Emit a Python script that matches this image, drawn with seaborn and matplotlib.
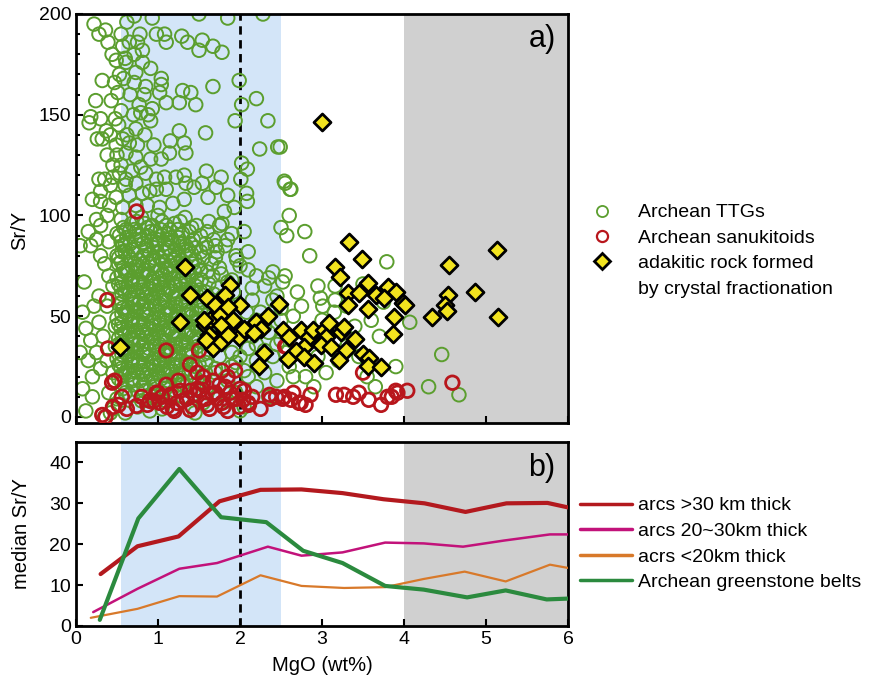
import numpy as np
import matplotlib.pyplot as plt
from matplotlib.lines import Line2D
from matplotlib.ticker import MultipleLocator
import seaborn as sns

sns.set_style("ticks")
plt.rcParams["font.family"] = ["Liberation Sans", "DejaVu Sans"]
for key in ("text.color", "axes.labelcolor", "xtick.color", "ytick.color",
            "axes.edgecolor"):
    plt.rcParams[key] = "black"

# ----- panel a) scatter data (MgO wt%, Sr/Y) -----
ttg_upper = [
    (0.22, 195), (0.36, 192), (0.28, 190), (0.39, 186), (0.71, 199), (0.93, 198),
    (1.50, 200), (1.85, 198), (2.28, 200), (0.98, 190), (1.08, 190), (1.10, 186),
    (1.29, 189), (1.36, 186), (1.54, 187), (1.50, 182), (1.67, 184), (1.78, 181),
    (0.65, 186), (0.75, 186), (0.81, 182), (0.71, 180), (0.57, 184), (0.49, 177),
    (0.61, 176), (0.81, 176), (0.91, 173), (1.04, 168), (1.04, 165), (1.02, 161),
    (0.73, 171), (0.71, 166), (0.85, 164), (0.53, 170), (0.47, 166), (0.32, 167),
    (0.51, 161), (0.43, 157), (0.55, 152), (0.24, 157), (0.18, 149), (0.30, 148),
    (0.16, 146), (0.37, 142), (0.26, 138), (0.49, 135), (1.30, 162), (1.40, 161),
    (1.67, 164), (1.99, 167), (2.20, 158), (2.02, 155), (1.94, 147), (2.34, 147),
    (1.26, 156), (1.46, 155), (1.10, 156), (0.93, 153), (0.77, 155), (0.79, 151),
    (0.91, 147), (0.73, 143), (0.57, 138), (0.65, 136), (1.26, 142), (1.58, 141),
    (1.15, 137), (1.32, 136), (1.34, 131), (1.14, 131), (1.04, 128), (0.91, 128),
    (0.73, 129), (0.61, 131), (0.79, 124), (2.24, 133), (2.46, 134), (2.02, 126),
    (2.09, 123), (1.59, 122), (1.77, 119), (1.71, 114), (1.61, 109), (2.01, 118),
    (2.08, 111), (2.09, 107), (2.54, 117), (2.62, 113), (0.28, 118), (0.45, 119),
    (0.53, 121), (0.61, 118), (0.73, 116), (0.85, 121), (0.98, 118), (1.08, 119),
    (1.22, 119), (1.32, 120), (1.34, 116), (1.44, 114), (1.54, 116), (1.10, 113),
    (0.98, 113), (0.81, 111), (0.65, 110), (0.49, 109), (0.30, 107), (0.41, 105),
    (0.57, 104), (0.73, 105), (0.87, 105), (1.02, 104), (1.18, 106), (1.32, 108),
    (1.81, 102), (1.93, 104), (2.49, 134), (1.85, 110), (2.60, 100),
    (0.55, 125), (0.62, 140), (0.70, 150), (0.66, 160), (0.58, 168), (0.52, 145),
    (0.60, 115), (0.68, 122), (0.75, 135), (0.84, 140), (0.90, 112), (0.95, 135),
    (0.55, 190), (0.62, 196), (0.60, 178), (0.78, 190), (0.83, 160), (0.88, 150),
    (0.50, 130), (0.44, 180),
]
ttg_left = [
    (0.05, 85), (0.08, 52), (0.05, 32), (0.10, 67), (0.12, 44), (0.15, 28),
    (0.20, 20), (0.18, 85), (0.25, 88), (0.30, 80), (0.35, 76), (0.22, 55),
    (0.28, 47), (0.33, 40), (0.25, 32), (0.38, 28), (0.30, 24), (0.20, 10),
    (0.12, 3), (0.35, 0), (0.42, 2), (0.40, 12), (0.45, 22), (0.48, 45),
    (0.45, 65), (0.40, 70), (0.30, 95), (0.38, 100), (0.42, 115), (0.35, 118),
    (0.45, 125), (0.30, 112), (0.20, 108), (0.25, 98), (0.15, 92), (0.40, 87),
    (0.50, 80), (0.08, 14), (0.28, 60), (0.38, 55), (0.48, 35), (0.18, 38),
    (0.42, 140), (0.38, 130), (0.48, 148), (0.32, 138),
]
ttg_core = [
    (0.55, 98), (0.68, 96), (0.80, 99), (0.93, 95), (1.05, 97), (1.20, 96), (1.33, 99),
    (1.47, 95), (1.62, 97), (1.78, 96),
    (0.50, 91), (0.62, 89), (0.74, 92), (0.87, 90), (0.99, 88), (1.12, 91), (1.25, 89),
    (1.38, 92), (1.52, 90), (1.68, 88), (1.90, 91),
    (0.57, 85), (0.70, 83), (0.82, 86), (0.95, 84), (1.08, 86), (1.21, 83), (1.34, 85),
    (1.46, 84), (1.58, 86), (1.72, 82), (1.82, 85),
    (0.52, 79), (0.64, 80), (0.77, 78), (0.90, 81), (1.02, 79), (1.15, 80), (1.28, 78),
    (1.41, 81), (1.55, 79), (1.65, 76), (1.96, 78),
    (0.58, 74), (0.71, 76), (0.84, 73), (0.97, 75), (1.10, 74), (1.23, 76), (1.36, 73),
    (1.49, 75), (1.60, 72), (1.75, 74), (2.10, 73),
    (0.50, 69), (0.63, 71), (0.76, 68), (0.89, 70), (1.01, 69), (1.14, 71), (1.27, 68),
    (1.40, 70), (1.53, 68), (1.67, 70), (1.85, 67), (2.35, 69),
    (0.55, 64), (0.68, 66), (0.81, 63), (0.94, 65), (1.07, 64), (1.20, 66), (1.33, 63),
    (1.46, 65), (1.58, 62), (1.73, 64), (2.15, 64),
    (0.52, 59), (0.65, 61), (0.78, 58), (0.91, 60), (1.04, 59), (1.17, 61), (1.30, 58),
    (1.43, 60), (1.56, 57), (1.78, 59), (2.40, 58),
    (0.57, 54), (0.70, 56), (0.83, 53), (0.96, 55), (1.09, 54), (1.22, 56), (1.35, 53),
    (1.48, 55), (1.62, 52), (2.08, 52), (2.50, 54),
    (0.50, 49), (0.63, 51), (0.76, 48), (0.89, 50), (1.02, 49), (1.15, 51), (1.28, 48),
    (1.41, 50), (1.54, 47), (1.70, 50), (2.20, 48),
    (0.55, 44), (0.68, 46), (0.81, 43), (0.94, 45), (1.07, 44), (1.20, 46), (1.33, 43),
    (1.46, 45), (1.60, 42), (1.95, 44), (2.35, 42),
    (0.52, 39), (0.65, 41), (0.78, 38), (0.91, 40), (1.04, 39), (1.17, 41), (1.30, 38),
    (1.43, 40), (1.56, 37), (1.80, 39), (2.45, 36),
    (0.57, 34), (0.70, 36), (0.83, 33), (0.96, 35), (1.09, 34), (1.22, 36), (1.35, 33),
    (1.48, 35), (1.62, 32), (2.10, 34),
    (0.50, 29), (0.63, 31), (0.76, 28), (0.89, 30), (1.02, 29), (1.15, 31), (1.28, 28),
    (1.41, 30), (1.58, 27), (2.20, 28),
    (0.55, 24), (0.68, 26), (0.81, 23), (0.94, 25), (1.07, 24), (1.20, 26), (1.33, 23),
    (1.46, 25), (1.70, 24),
    (0.52, 19), (0.65, 21), (0.78, 18), (0.91, 20), (1.04, 19), (1.17, 21), (1.30, 18),
    (1.45, 20), (1.85, 18),
    (0.57, 14), (0.70, 16), (0.83, 13), (0.96, 15), (1.09, 14), (1.25, 16), (1.40, 13),
    (1.60, 12),
    (0.50, 9), (0.65, 11), (0.80, 8), (0.95, 10), (1.10, 8), (1.30, 10), (1.55, 7),
    (0.45, 4), (0.60, 2), (0.75, 5), (0.90, 3), (1.05, 4), (1.45, 2), (2.00, 3),
]
ttg_core_fill = [
    (0.61, 93), (0.74, 97), (0.87, 94), (1.00, 100), (1.14, 93), (1.27, 97), (1.41, 94),
    (0.55, 87), (0.66, 86), (0.79, 88), (0.92, 87), (1.05, 90), (1.17, 87), (1.30, 86),
    (1.43, 88), (1.60, 84),
    (0.60, 82), (0.73, 81), (0.86, 83), (0.99, 82), (1.12, 84), (1.25, 81), (1.37, 83),
    (1.52, 82),
    (0.55, 77), (0.68, 78), (0.81, 76), (0.93, 78), (1.06, 77), (1.19, 78), (1.32, 76),
    (1.45, 78), (1.70, 79),
    (0.60, 72), (0.73, 73), (0.86, 71), (0.99, 72), (1.12, 73), (1.25, 71), (1.38, 72),
    (1.52, 73), (1.77, 71),
    (0.56, 67), (0.69, 68), (0.82, 66), (0.95, 67), (1.08, 68), (1.21, 66), (1.34, 67),
    (1.47, 68), (1.62, 66),
    (0.60, 62), (0.73, 63), (0.86, 61), (0.99, 62), (1.12, 63), (1.25, 61), (1.38, 62),
    (1.51, 63), (1.68, 61), (1.92, 62),
    (0.56, 57), (0.69, 58), (0.82, 56), (0.95, 57), (1.08, 58), (1.21, 56), (1.34, 57),
    (1.50, 58), (1.66, 56), (1.88, 55),
    (0.60, 52), (0.73, 53), (0.86, 51), (0.99, 52), (1.12, 53), (1.25, 51), (1.38, 52),
    (1.52, 53), (1.78, 52),
    (0.56, 47), (0.69, 48), (0.82, 46), (0.95, 47), (1.08, 48), (1.21, 46), (1.34, 47),
    (1.48, 48), (1.65, 46), (1.86, 46),
    (0.60, 42), (0.73, 43), (0.86, 41), (0.99, 42), (1.12, 43), (1.25, 41), (1.38, 42),
    (1.52, 43), (1.72, 42), (2.00, 41),
    (0.56, 37), (0.69, 38), (0.82, 36), (0.95, 37), (1.08, 38), (1.21, 36), (1.34, 37),
    (1.48, 38), (1.70, 36), (2.20, 36),
    (0.60, 32), (0.73, 33), (0.86, 31), (0.99, 32), (1.12, 33), (1.25, 31), (1.38, 32),
    (1.55, 31), (1.90, 32), (2.30, 33),
    (0.56, 27), (0.69, 28), (0.82, 26), (0.95, 27), (1.08, 28), (1.21, 26), (1.34, 27),
    (1.50, 26), (1.95, 27),
    (0.60, 22), (0.73, 23), (0.86, 21), (0.99, 22), (1.12, 23), (1.25, 21), (1.38, 22),
    (1.58, 22), (2.05, 23),
    (0.56, 17), (0.69, 18), (0.82, 16), (0.95, 17), (1.12, 18), (1.30, 16), (1.50, 17),
    (0.60, 12), (0.75, 13), (0.90, 11), (1.05, 12), (1.20, 13), (1.45, 11),
]
ttg_core_dense = [
    (0.58, 94), (0.71, 93), (0.84, 96), (0.97, 92), (1.10, 95), (1.24, 93),
    (0.53, 90), (0.65, 92), (0.78, 90), (0.91, 92), (1.03, 93), (1.16, 89), (1.30, 91),
    (0.60, 86), (0.73, 88), (0.86, 85), (0.99, 86), (1.12, 88), (1.26, 86), (1.40, 86),
    (0.56, 82), (0.69, 83), (0.82, 80), (0.95, 79), (1.08, 82), (1.21, 79), (1.34, 82),
    (0.52, 76), (0.63, 73), (0.76, 75), (0.89, 76), (1.03, 73), (1.16, 75), (1.29, 74),
    (1.42, 76),
    (0.55, 71), (0.68, 69), (0.81, 71), (0.94, 69), (1.06, 71), (1.19, 69), (1.32, 70),
    (1.45, 72),
    (0.52, 66), (0.63, 64), (0.76, 66), (0.89, 64), (1.02, 66), (1.15, 64), (1.28, 66),
    (1.41, 63),
    (0.56, 61), (0.69, 59), (0.82, 61), (0.95, 59), (1.08, 61), (1.21, 59), (1.34, 61),
    (1.47, 61),
    (0.52, 56), (0.63, 54), (0.76, 56), (0.89, 54), (1.02, 56), (1.15, 54), (1.28, 56),
    (1.41, 53),
    (0.56, 51), (0.69, 49), (0.82, 51), (0.95, 49), (1.08, 51), (1.21, 49), (1.34, 51),
    (1.47, 51),
    (0.52, 46), (0.63, 44), (0.76, 46), (0.89, 44), (1.02, 46), (1.15, 44), (1.28, 46),
    (1.41, 43),
    (0.56, 41), (0.69, 39), (0.82, 41), (0.95, 39), (1.08, 41), (1.21, 39), (1.34, 41),
    (0.52, 36), (0.63, 34), (0.76, 36), (0.89, 34), (1.02, 36), (1.15, 34), (1.28, 36),
    (1.41, 33),
    (0.56, 31), (0.69, 29), (0.82, 31), (0.95, 29), (1.08, 31), (1.21, 29), (1.34, 31),
    (0.52, 26), (0.63, 24), (0.76, 26), (0.89, 24), (1.02, 26), (1.15, 24), (1.28, 26),
    (0.56, 21), (0.69, 19), (0.82, 21), (0.95, 19), (1.08, 21), (1.21, 19),
]
ttg_right = [
    (1.60, 92), (1.70, 85), (1.75, 95), (1.85, 88), (1.95, 80), (2.05, 92), (2.00, 75),
    (2.10, 82), (2.20, 70), (2.30, 65), (2.40, 72), (2.45, 60), (2.15, 58), (2.25, 52),
    (1.90, 68), (1.80, 60), (1.70, 50), (1.65, 40), (1.75, 30), (1.90, 25), (2.00, 30),
    (2.10, 20), (2.20, 15), (2.30, 22), (2.40, 30), (2.50, 38), (2.35, 10), (2.45, 18),
    (1.95, 12), (1.85, 8), (2.05, 5), (1.60, 15), (1.70, 22), (2.15, 40), (2.30, 45),
    (2.50, 48), (2.55, 70), (2.57, 90), (2.79, 92), (2.85, 80), (2.95, 65), (2.75, 55),
    (2.65, 50), (2.85, 40), (2.95, 30), (3.05, 22), (3.15, 52), (3.20, 28), (3.30, 35),
    (3.45, 30), (3.55, 20), (3.40, 45), (3.60, 48), (3.70, 40), (3.79, 77), (3.75, 57),
    (3.50, 66), (3.30, 55), (3.15, 37), (3.65, 15), (3.90, 25), (2.90, 15), (2.60, 25),
    (2.80, 20), (3.00, 48), (2.55, 32), (2.55, 116), (2.61, 113), (2.52, 67), (2.70, 62),
    (2.98, 59), (3.16, 58), (3.16, 65), (3.01, 55), (2.65, 20), (4.07, 47), (4.46, 31),
    (4.30, 15), (4.67, 11), (2.50, 94),
]
ttg_points = ttg_upper + ttg_left + ttg_core + ttg_core_fill + ttg_core_dense + ttg_right
ttg_mgo = [p[0] for p in ttg_points]
ttg_sry = [p[1] for p in ttg_points]

sanuk_mgo = [0.74, 0.38, 0.39, 1.10, 1.50, 1.39, 1.48, 1.78, 1.94, 1.67, 0.44, 0.47,
             0.56, 0.32, 0.36, 0.45, 0.52, 0.74, 0.87, 1.05, 1.11, 1.23, 1.39, 1.39,
             1.51, 1.67, 1.78, 1.91, 1.99, 2.10, 2.37, 2.52, 2.57, 2.65, 2.74, 2.55,
             3.50, 2.04, 2.11, 2.36, 2.44, 2.54, 2.62, 2.72, 2.80, 2.86, 3.17, 3.27,
             3.38, 3.45, 3.57, 3.72, 3.80, 3.90, 4.59, 4.04, 3.92, 3.85, 0.95, 1.00,
             1.18, 1.30, 1.60, 1.72, 1.85, 2.00, 0.62, 1.45, 1.55, 1.82,
             0.98, 1.02, 1.15, 1.20, 1.27, 1.35, 1.42, 1.48, 1.58, 1.63, 1.70, 1.75,
             1.80, 1.88, 1.95, 2.05, 2.15, 2.25, 1.25, 1.55, 1.85, 1.10, 0.90, 0.80]
sanuk_sry = [102, 58, 34, 33, 33, 26, 22, 23, 23, 18, 17, 18,
             10, 1, 0, 5, 6, 5.5, 6, 10, 5, 7, 3.5, 13,
             13, 11, 7, 9, 5, 7, 9, 9, 35, 12, 7, 35,
             22, 8.5, 6, 11, 10, 10, 8.5, 7, 6, 11, 11, 11,
             10, 12, 8.5, 6, 10, 13, 17, 13, 12, 10, 8, 12,
             4, 8, 6, 9, 3, 14, 4, 11, 17, 15,
             12, 7, 11, 3, 13, 9, 5, 14, 9, 4, 12, 16,
             5, 12, 9, 13, 10, 4, 18, 20, 20, 16, 8, 10]

adak_mgo = [1.33, 0.54, 1.39, 1.27, 1.60, 1.70, 1.88, 2.00, 1.82, 1.63, 1.76, 1.57,
            1.70, 1.82, 1.67, 1.91, 1.99, 2.05, 2.20, 2.34, 2.26, 2.48, 2.17, 2.29,
            2.23, 2.52, 2.60, 2.74, 2.84, 2.89, 3.02, 3.09, 3.05, 3.23, 3.27, 3.40,
            2.99, 3.11, 3.29, 2.78, 2.68, 2.59, 2.78, 2.90, 3.21, 3.50, 3.57, 3.56,
            3.72, 3.00, 3.33, 3.16, 3.22, 3.49, 3.32, 3.45, 3.56, 3.66, 3.80, 3.90,
            3.76, 3.99, 3.32, 3.56, 3.88, 3.87, 4.34, 5.13, 4.55, 4.54, 4.87, 4.50,
            4.52, 5.15, 4.01, 1.85, 1.56, 1.77, 1.62, 1.77, 1.59, 1.85]
adak_sry = [74.6, 34.8, 60.7, 47.3, 59.2, 55.7, 65.7, 55.7, 60.7, 48.3, 50.7, 45.8,
            38.3, 43.3, 34.3, 48.3, 39.8, 43.8, 47.3, 50.2, 43.8, 56.2, 41.8, 31.8,
            25.4, 43.3, 39.8, 43.3, 39.8, 43.3, 43.3, 46.8, 39.8, 42.3, 44.8, 38.8,
            35.8, 34.8, 33.3, 34.8, 32.8, 28.9, 29.9, 26.9, 28.4, 31.3, 29.4, 25.4,
            24.9, 146.3, 86.6, 74.6, 69.7, 78.6, 61.7, 61.7, 66.7, 60.7, 64.7, 62.2,
            59.2, 56.7, 55.7, 53.7, 49.8, 41.3, 49.8, 83.1, 75.6, 60.7, 62.2, 55.7,
            52.7, 49.8, 55.7, 54.7, 48.3, 45.8, 40.8, 37.3, 38.3, 40.8]

# ----- panel b) median Sr/Y curves -----
red_mgo = [0.30, 0.75, 1.25, 1.75, 2.25, 2.75, 3.25, 3.75, 4.25, 4.75, 5.25, 5.75, 6.00]
red_sry = [12.7, 19.5, 21.9, 30.5, 33.3, 33.4, 32.5, 31.0, 30.0, 27.9, 30.0, 30.1, 29.0]
mag_mgo = [0.21, 0.75, 1.26, 1.72, 2.34, 2.75, 3.25, 3.77, 4.24, 4.72, 5.22, 5.78, 6.00]
mag_sry = [3.4, 9.1, 14.0, 15.4, 19.4, 17.2, 18.0, 20.4, 20.2, 19.4, 20.9, 22.4, 22.4]
ora_mgo = [0.18, 0.75, 1.26, 1.72, 2.25, 2.75, 3.27, 3.77, 4.24, 4.74, 5.24, 5.78, 6.00]
ora_sry = [2.0, 4.2, 7.3, 7.2, 12.4, 9.8, 9.3, 9.5, 11.5, 13.3, 10.9, 15.0, 14.2]
grn_mgo = [0.29, 0.76, 1.26, 1.77, 2.32, 2.77, 3.25, 3.77, 4.24, 4.77, 5.24, 5.74, 6.00]
grn_sry = [1.5, 26.3, 38.4, 26.6, 25.4, 18.4, 15.4, 9.8, 8.9, 7.0, 8.7, 6.5, 6.7]

C_TTG = "#5b9e2e"
C_SAN = "#b8161c"
C_ADK = "#f2e31f"
C_RED = "#b3191e"
C_MAG = "#c2127a"
C_ORA = "#d8792a"
C_GRN = "#2b8a3e"
C_BLUE = "#d3e5f8"
C_GRAY = "#d0d0d0"

W, H = 871, 679
fig = plt.figure(figsize=(W / 100, H / 100), dpi=100)
ax1 = fig.add_axes([76 / W, 1 - 423 / H, 492 / W, 409 / H])
ax2 = fig.add_axes([76 / W, 1 - 626 / H, 492 / W, 184 / H])

for ax in (ax1, ax2):
    ax.axvspan(0.55, 2.5, color=C_BLUE, lw=0, zorder=0)
    ax.axvspan(4, 6, color=C_GRAY, lw=0, zorder=0)
    ax.axvline(2, color="black", ls=(0, (3, 2)), lw=2, zorder=1)

# ----- panel a -----
sns.scatterplot(x=ttg_mgo, y=ttg_sry, ax=ax1, marker="o", s=95,
                facecolor="none", edgecolor=C_TTG, linewidth=1.4, zorder=2)
sns.scatterplot(x=sanuk_mgo, y=sanuk_sry, ax=ax1, marker="o", s=95,
                facecolor="none", edgecolor=C_SAN, linewidth=2, zorder=3)
sns.scatterplot(x=adak_mgo, y=adak_sry, ax=ax1, marker="D", s=75,
                color=C_ADK, edgecolor="black", linewidth=2, zorder=4)

ax1.set_xlim(0, 6)
ax1.set_ylim(-3, 200)
ax1.set_xticks(range(0, 7))
ax1.set_yticks([0, 50, 100, 150, 200])
ax1.yaxis.set_minor_locator(MultipleLocator(10))
ax1.tick_params(axis="x", labelbottom=False)
ax1.set_ylabel("Sr/Y", fontsize=14.5)
ax1.yaxis.set_label_coords(-0.096, 0.47)
ax1.text(0.975, 0.94, "a)", transform=ax1.transAxes, ha="right", va="center",
         fontsize=22)

# ----- panel b -----
sns.lineplot(x=red_mgo, y=red_sry, ax=ax2, color=C_RED, lw=3, zorder=3)
sns.lineplot(x=mag_mgo, y=mag_sry, ax=ax2, color=C_MAG, lw=1.8, zorder=3)
sns.lineplot(x=ora_mgo, y=ora_sry, ax=ax2, color=C_ORA, lw=1.6, zorder=3)
sns.lineplot(x=grn_mgo, y=grn_sry, ax=ax2, color=C_GRN, lw=3, zorder=4)

ax2.set_xlim(0, 6)
ax2.set_ylim(0, 45)
ax2.set_xticks(range(0, 7))
ax2.set_yticks([0, 10, 20, 30, 40])
ax2.set_xlabel("MgO (wt%)", fontsize=14.5, labelpad=6)
ax2.set_ylabel("median Sr/Y", fontsize=14.5)
ax2.yaxis.set_label_coords(-0.092, 0.5)
ax2.text(0.975, 0.86, "b)", transform=ax2.transAxes, ha="right", va="center",
         fontsize=22)

for ax in (ax1, ax2):
    for sp in ax.spines.values():
        sp.set_linewidth(2)
        sp.set_visible(True)
    ax.tick_params(which="both", direction="in", width=1.5, labelsize=14)
    ax.tick_params(which="major", length=5)
    ax.tick_params(which="minor", length=3)

# ----- legends -----
h_top = [
    Line2D([], [], ls="none", marker="o", ms=8, mfc="none", mec=C_TTG, mew=1.3),
    Line2D([], [], ls="none", marker="o", ms=8, mfc="none", mec=C_SAN, mew=1.6),
    Line2D([], [], ls="none", marker="D", ms=8, mfc=C_ADK, mec="black", mew=2),
    Line2D([], [], ls="none"),
]
l_top = ["Archean TTGs", "Archean sanukitoids", "adakitic rock formed",
         "by crystal fractionation"]
fig.legend(h_top, l_top, loc="upper left", bbox_to_anchor=(582 / W, 1 - 196 / H),
           frameon=False, fontsize=14, handletextpad=1.18, labelspacing=0.4,
           handlelength=1.3, borderaxespad=0)

h_bot = [Line2D([], [], color=c, lw=2.5) for c in (C_RED, C_MAG, C_ORA, C_GRN)]
l_bot = ["arcs >30 km thick", "arcs 20~30km thick", "acrs <20km thick",
         "Archean greenstone belts"]
fig.legend(h_bot, l_bot, loc="upper left", bbox_to_anchor=(572 / W, 1 - 489 / H),
           frameon=False, fontsize=14, handletextpad=0.31, labelspacing=0.41,
           handlelength=2.67, borderaxespad=0)

fig.savefig("out.png", dpi=100)
